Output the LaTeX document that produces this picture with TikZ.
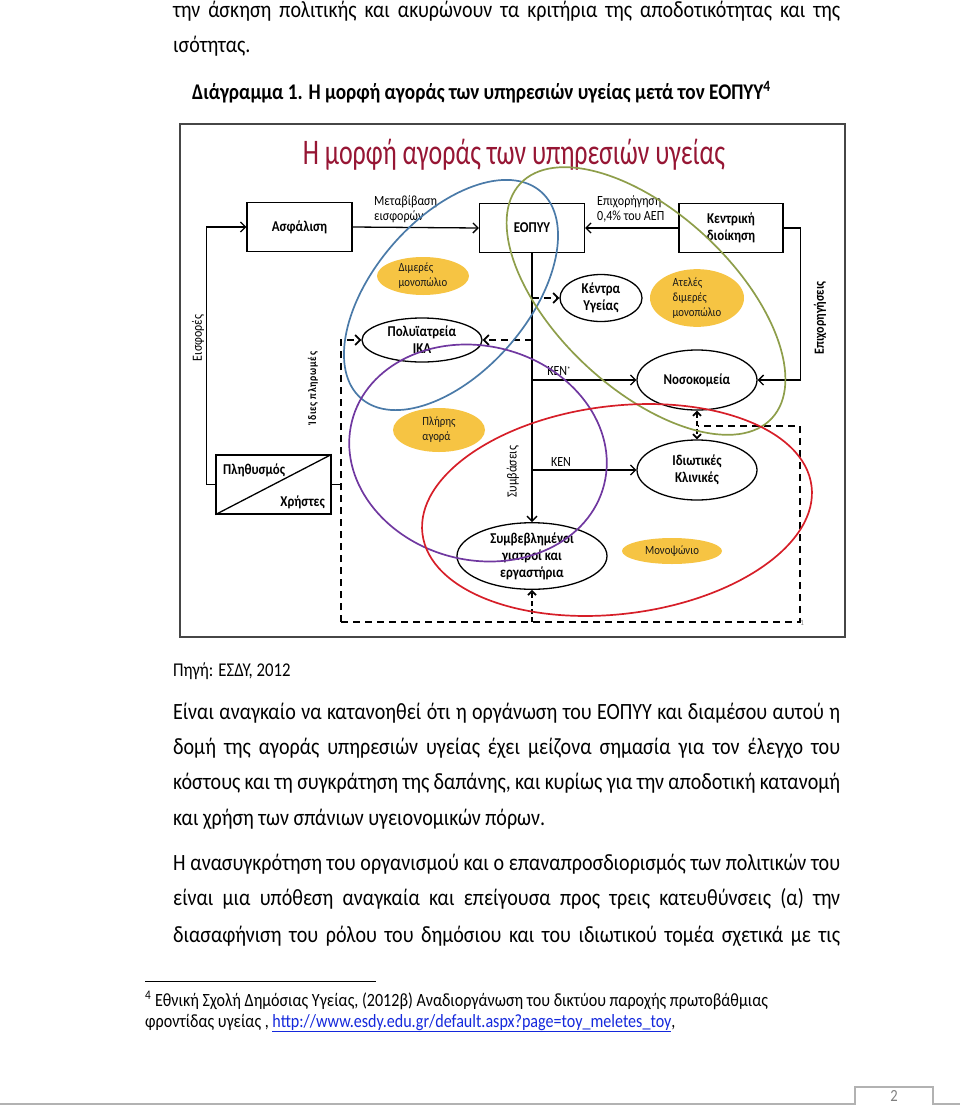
\documentclass[tikz,border=0pt]{standalone}
\usepackage{fontspec}
\setmainfont{Carlito}[FakeStretch=0.86]
\newfontfamily\titlef{Carlito}[FakeStretch=0.72]
\usetikzlibrary{arrows.meta,shapes.geometric}
\definecolor{yelc}{RGB}{246,196,67}
\definecolor{titlec}{RGB}{150,22,52}
\definecolor{blueC}{RGB}{74,122,168}
\definecolor{greenC}{RGB}{142,158,74}
\definecolor{purpC}{RGB}{112,56,160}
\definecolor{redC}{RGB}{214,30,40}
\definecolor{linkb}{RGB}{20,40,220}
\definecolor{framec}{RGB}{70,70,70}
\newcommand\fsz[2]{\fontsize{#1}{#2}\selectfont}
\tikzset{
  bodyline/.style={anchor=base west, inner sep=0pt, font=\fsz{23.3}{27}},
  boxn/.style={draw, line width=1.3pt, minimum width=105pt, minimum height=49pt, font=\fsz{15}{17}\bfseries, align=center},
  elln/.style={ellipse, draw, line width=1.3pt, inner sep=0pt, font=\fsz{15}{17}\bfseries, align=center},
  yeln/.style={ellipse, fill=yelc, inner sep=0pt, font=\fsz{12.5}{15}, text=black!90, align=left},
  conn/.style={line width=1.3pt, -{Straight Barb[length=5pt,width=10pt]}},
  dconn/.style={line width=1.7pt, dash pattern=on 7pt off 5pt, -{Straight Barb[length=5pt,width=10pt]}},
  dline/.style={line width=1.7pt, dash pattern=on 7pt off 5pt},
  lbl/.style={inner sep=0pt, font=\fsz{14}{15}, align=left},
  bigell/.style={line width=1.7pt}
}
\begin{document}
\begin{tikzpicture}[x=1pt,y=-1pt]
\useasboundingbox (0,0) rectangle (960,1106);
% ---------- text above ----------
\node[bodyline] (t1) at (173,17) {\makebox[667pt][s]{την άσκηση πολιτικής και ακυρώνουν τα κριτήρια της αποδοτικότητας και της}};
\node[bodyline] (t2) at (173,52) {ισότητας.};
\node[bodyline, font=\fsz{22.4}{26}\bfseries] (cap) at (192,99) {Διάγραμμα 1. Η μορφή αγοράς των υπηρεσιών υγείας μετά τον ΕΟΠΥΥ\textsuperscript{4}};
% ---------- frame ----------
\draw[line width=2pt, framec] (180,124) rectangle (845,637);
\node[inner sep=0pt, font=\titlef\fsz{36}{40}, text=titlec] (title) at (514,155) {Η μορφή αγοράς των υπηρεσιών υγείας};
% ---------- boxes ----------
\node[boxn] (ins) at (299.5,227) {Ασφάλιση};
\node[boxn] (eopyy) at (532,228) {ΕΟΠΥΥ};
\node[boxn, minimum width=104pt] (kd) at (731,228) {Κεντρική\\διοίκηση};
\node[draw, line width=1.3pt, minimum width=115pt, minimum height=59pt, inner sep=0pt] (pop) at (273.5,484.5) {};
\draw[line width=1.3pt] (pop.south west) -- (pop.north east);
\node[inner sep=0pt, font=\fsz{15}{17}\bfseries, anchor=west] (popt) at (223,470) {Πληθυσμός};
\node[inner sep=0pt, font=\fsz{15}{17}\bfseries, anchor=east] (usrt) at (325,502) {Χρήστες};
% ---------- ellipses ----------
\node[elln, minimum width=82pt, minimum height=47pt] (kentra) at (601,298) {Κέντρα\\Υγείας};
\node[elln, minimum width=120pt, minimum height=44pt] (poly) at (422,340) {Πολυϊατρεία\\ΙΚΑ};
\node[elln, minimum width=120pt, minimum height=60pt] (noso) at (697,380) {Νοσοκομεία};
\node[elln, minimum width=120pt, minimum height=60pt] (idiot) at (697,470) {Ιδιωτικές\\Κλινικές};
\node[elln, minimum width=150pt, minimum height=62pt] (symv) at (532,556) {Συμβεβλημένοι\\γιατροί και\\εργαστήρια};
% ---------- yellow ----------
\node[yeln, minimum width=92pt, minimum height=38pt] (dim) at (423,276) {Διμερές\\μονοπώλιο};
\node[yeln, minimum width=94pt, minimum height=52pt] (atel) at (697,298) {Ατελές\\διμερές\\μονοπώλιο};
\node[yeln, minimum width=92pt, minimum height=44pt] (plir) at (439,430) {Πλήρης\\αγορά};
\node[yeln, minimum width=100pt, minimum height=26pt] (mono) at (672,551) {Μονοψώνιο};
% ---------- connectors ----------
\draw[conn] (ins.east) -- (eopyy.west);
\draw[conn] (kd.west) -- (eopyy.east);
\node[lbl, anchor=west] (metl) at (374,209) {Μεταβίβαση\\εισφορών};
\node[lbl, anchor=west] (epil) at (597,209) {Επιχορήγηση\\0,4\% του ΑΕΠ};
\draw[conn] (pop.west) -- ++(-9,0) |- (ins.west);
\node[inner sep=0pt, font=\fsz{14}{16}, rotate=90] (eisf) at (198,338) {Εισφορές};
\coordinate (dl) at (341,622);
\coordinate (dr) at (800,622);
\coordinate (dtr) at (800,426);
\coordinate (dm) at (698,426);
\draw[line width=1.3pt] (pop.east) -- (pop.east -| dl);
\draw[dconn] (dl) |- (poly.west);
\draw[dline] (dl) -- (dr) -- (dtr) -- (dm);
\draw[line width=1.7pt, dash pattern=on 5pt off 3pt, {Straight Barb[length=4pt,width=8pt]}-{Straight Barb[length=4pt,width=8pt]}] (noso.south) -- (idiot.north);
\draw[line width=1.7pt, dash pattern=on 5pt off 3pt, -{Straight Barb[length=4pt,width=8pt]}] (dl -| symv) -- (symv.south);
\node[inner sep=0pt, font=\fsz{11.5}{14}\bfseries\addfontfeatures{LetterSpace=6}, rotate=90] (idp) at (313,388) {Ίδιες πληρωμές};
% spine
\draw[conn] (eopyy.south) -- (symv.north);
\draw[dconn] (eopyy.south |- kentra.west) -- (kentra.west);
\draw[dconn] (eopyy.south |- poly.east) -- (poly.east);
\draw[conn] (eopyy.south |- noso.west) -- (noso.west);
\draw[conn] (eopyy.south |- idiot.west) -- (idiot.west);
\node[lbl] (ken1) at (559,371) {ΚΕΝ\raisebox{3pt}{\fsz{8}{9}*}};
\node[lbl] (ken2) at (561,462) {ΚΕΝ};
\node[inner sep=0pt, font=\fsz{14}{16}, rotate=90] (symb) at (513,472) {Συμβάσεις};
% Epichorigiseis
\draw[conn] (kd.east) -- ++(17,0) |- (noso.east);
\node[inner sep=0pt, font=\fsz{14}{16}\bfseries, rotate=90] (epix) at (820,318) {Επιχορηγήσεις};
\node[inner sep=0pt, font=\fsz{8}{9}, text=gray] (one) at (802,623) {1};
% ---------- big coloured ellipses ----------
\draw[bigell, blueC, rotate around={49:(451,295)}] (451,295) ellipse [x radius=137, y radius=77];
\draw[bigell, greenC, rotate around={-43:(646,301)}] (646,301) ellipse [x radius=172, y radius=88];
\draw[bigell, purpC, rotate around={-14:(478,453)}] (478,453) ellipse [x radius=130, y radius=107];
\draw[bigell, redC, rotate around={7:(617,510)}] (617,510) ellipse [x radius=196, y radius=104];
% ---------- text below ----------
\node[bodyline, font=\fsz{19.5}{22}] (src) at (173,676) {Πηγή: ΕΣΔΥ, 2012};
\node[bodyline] (p1) at (173,719) {\makebox[667pt][s]{Είναι αναγκαίο να κατανοηθεί ότι η οργάνωση του ΕΟΠΥΥ και διαμέσου αυτού η}};
\node[bodyline] (p2) at (173,754) {\makebox[667pt][s]{δομή της αγοράς υπηρεσιών υγείας έχει μείζονα σημασία για τον έλεγχο του}};
\node[bodyline] (p3) at (173,789) {\makebox[667pt][s]{κόστους και τη συγκράτηση της δαπάνης, και κυρίως για την αποδοτική κατανομή}};
\node[bodyline] (p4) at (173,825) {και χρήση των σπάνιων υγειονομικών πόρων.};
\node[bodyline] (q1) at (173,870) {\makebox[667pt][s]{Η ανασυγκρότηση του οργανισμού και ο επαναπροσδιορισμός των πολιτικών του}};
\node[bodyline] (q2) at (173,905) {\makebox[667pt][s]{είναι μια υπόθεση αναγκαία και επείγουσα προς τρεις κατευθύνσεις (α) την}};
\node[bodyline] (q3) at (173,942) {\makebox[667pt][s]{διασαφήνιση του ρόλου του δημόσιου και του ιδιωτικού τομέα σχετικά με τις}};
\draw[line width=1pt] (145,981) -- (376,981);
\node[bodyline, font=\fsz{18.7}{21}] (fn1) at (145,1006) {\textsuperscript{4} Εθνική Σχολή Δημόσιας Υγείας, (2012β) Αναδιοργάνωση του δικτύου παροχής πρωτοβάθμιας};
\node[bodyline, font=\fsz{18.7}{21}] (fn2) at (145,1027) {φροντίδας υγείας , \textcolor{linkb}{\underline{http://www.esdy.edu.gr/default.aspx?page=toy\_meletes\_toy}},};
% ---------- page number ----------
\draw[gray!60, line width=1.5pt] (0,1104) -- (855,1104) -- (855,1087) -- (933,1087) -- (933,1104) -- (960,1104);
\node[inner sep=0pt, font=\fsz{17}{19}, text=gray] (pg) at (894,1096) {2};
\end{tikzpicture}
\end{document}
